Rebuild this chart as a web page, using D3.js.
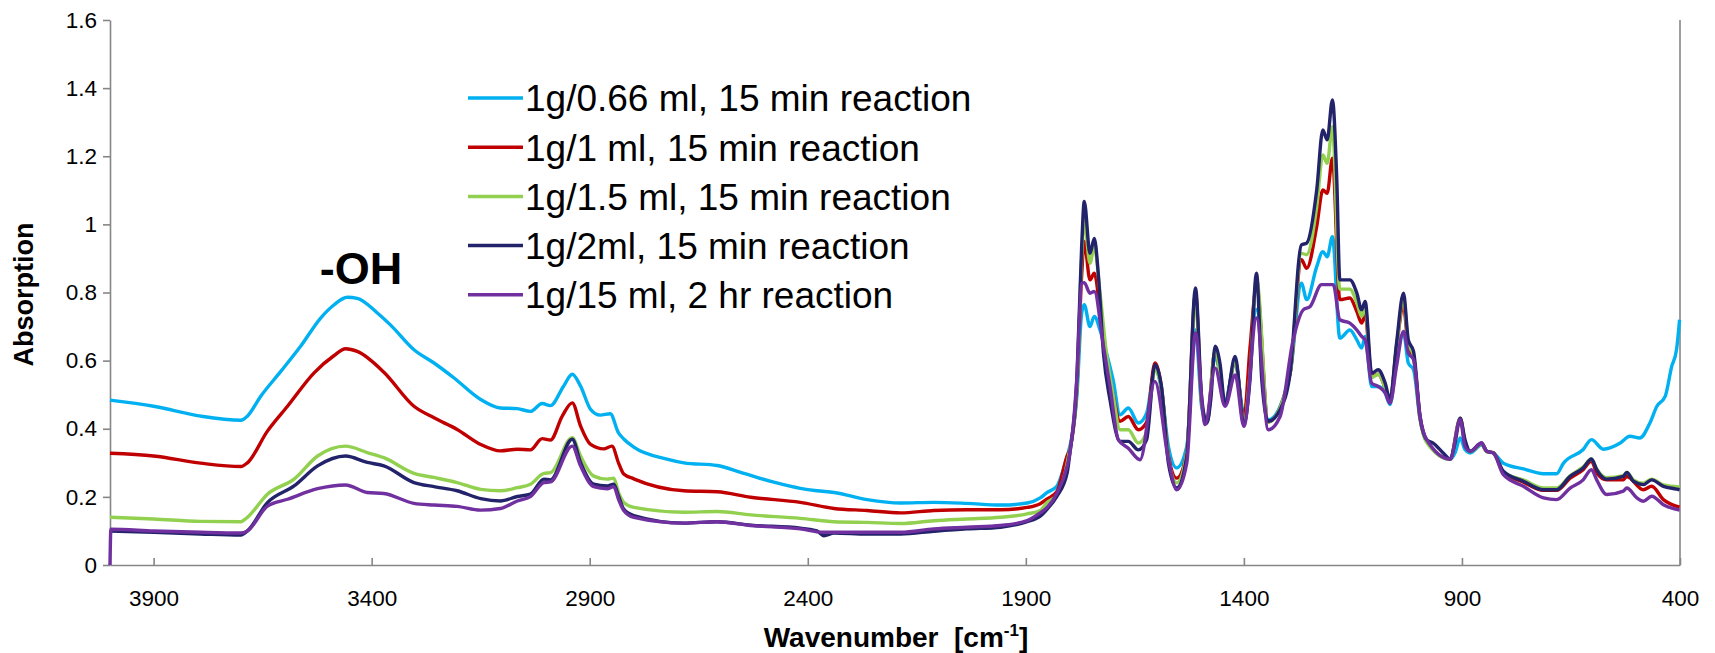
<!DOCTYPE html>
<html>
<head>
<meta charset="utf-8">
<script src="https://cdn.jsdelivr.net/npm/d3@7"></script>
<style>
  body { margin: 0; background: #fff; }
  text { font-family: Arial, "Liberation Sans", sans-serif; }
</style>
</head>
<body>
<div id="chart"></div>
<script>
// series names and colours, in legend order
var seriesNames = ["1g/0.66 ml, 15 min reaction", "1g/1 ml, 15 min reaction", "1g/1.5 ml, 15 min reaction", "1g/2ml, 15 min reaction", "1g/15 ml, 2 hr reaction"];
var seriesColors = ["#00b0f0", "#c00000", "#92d050", "#23236b", "#7030a0"];

var xTicks = [3900, 3400, 2900, 2400, 1900, 1400, 900, 400];
var yTicks = [0, 0.2, 0.4, 0.6, 0.8, 1, 1.2, 1.4, 1.6];

// [wavenumber, absorption]
var s066 = [[4000,0.484],[3900,0.466],[3792,0.437],[3700,0.425],[3685,0.437],[3654,0.496],[3608,0.569],[3563,0.642],[3517,0.725],[3486,0.764],[3456,0.786],[3433,0.783],[3387,0.740],[3357,0.705],[3303,0.632],[3257,0.593],[3211,0.549],[3150,0.486],[3105,0.461],[3066,0.459],[3036,0.451],[3009,0.474],[2990,0.468],[2960,0.525],[2940,0.560],[2921,0.525],[2898,0.457],[2876,0.440],[2853,0.444],[2834,0.388],[2822,0.370],[2799,0.346],[2723,0.311],[2684,0.300],[2608,0.292],[2554,0.272],[2478,0.243],[2417,0.225],[2379,0.218],[2340,0.213],[2264,0.192],[2187,0.182],[2111,0.184],[2035,0.181],[1958,0.176],[1897,0.182],[1867,0.197],[1851,0.213],[1829,0.231],[1805,0.321],[1799,0.348],[1783,0.495],[1772,0.739],[1766,0.764],[1753,0.700],[1743,0.730],[1730,0.690],[1715,0.622],[1700,0.544],[1684,0.441],[1665,0.461],[1642,0.417],[1623,0.446],[1604,0.573],[1589,0.514],[1573,0.348],[1554,0.285],[1531,0.348],[1511,0.690],[1497,0.466],[1485,0.417],[1466,0.612],[1443,0.485],[1420,0.593],[1400,0.446],[1371,0.750],[1344,0.426],[1294,0.563],[1268,0.827],[1256,0.779],[1233,0.876],[1219,0.920],[1209,0.905],[1197,0.964],[1180,0.666],[1157,0.690],[1141,0.661],[1130,0.637],[1122,0.671],[1107,0.524],[1092,0.524],[1076,0.505],[1065,0.471],[1050,0.603],[1034,0.681],[1023,0.593],[1011,0.573],[996,0.427],[981,0.363],[927,0.311],[916,0.329],[904,0.373],[893,0.339],[881,0.329],[855,0.353],[843,0.334],[828,0.329],[805,0.299],[759,0.282],[713,0.268],[683,0.268],[667,0.299],[622,0.339],[603,0.368],[576,0.340],[537,0.358],[515,0.378],[492,0.373],[469,0.417],[453,0.466],[434,0.495],[419,0.583],[408,0.632],[401,0.720]];

var s1 = [[4000,0.328],[3900,0.320],[3792,0.299],[3700,0.289],[3685,0.300],[3639,0.393],[3593,0.466],[3532,0.564],[3486,0.615],[3460,0.635],[3433,0.627],[3372,0.566],[3303,0.466],[3257,0.432],[3204,0.398],[3150,0.354],[3105,0.335],[3066,0.340],[3036,0.338],[3009,0.371],[2990,0.367],[2963,0.437],[2940,0.476],[2921,0.408],[2898,0.354],[2868,0.341],[2849,0.349],[2834,0.300],[2822,0.267],[2799,0.253],[2684,0.218],[2608,0.215],[2531,0.199],[2417,0.184],[2340,0.166],[2264,0.160],[2187,0.153],[2111,0.160],[2035,0.162],[1958,0.162],[1897,0.169],[1867,0.180],[1851,0.194],[1829,0.215],[1805,0.321],[1799,0.340],[1783,0.520],[1772,0.850],[1766,0.950],[1753,0.837],[1743,0.857],[1730,0.750],[1715,0.600],[1700,0.500],[1684,0.422],[1665,0.436],[1642,0.397],[1623,0.420],[1604,0.593],[1589,0.520],[1573,0.320],[1554,0.255],[1531,0.330],[1511,0.798],[1497,0.480],[1485,0.417],[1466,0.630],[1443,0.475],[1420,0.600],[1400,0.430],[1386,0.637],[1371,0.820],[1344,0.420],[1294,0.563],[1268,0.896],[1256,0.871],[1233,0.994],[1219,1.101],[1209,1.091],[1197,1.194],[1180,0.779],[1157,0.784],[1141,0.744],[1130,0.710],[1122,0.735],[1107,0.554],[1092,0.560],[1076,0.520],[1065,0.480],[1050,0.640],[1034,0.760],[1023,0.640],[1011,0.610],[996,0.430],[981,0.366],[927,0.311],[904,0.430],[893,0.360],[881,0.333],[855,0.356],[843,0.333],[828,0.330],[805,0.272],[759,0.243],[713,0.219],[683,0.219],[652,0.255],[622,0.280],[603,0.305],[591,0.270],[568,0.250],[530,0.250],[522,0.260],[484,0.221],[465,0.231],[438,0.192],[401,0.170]];

var s15 = [[4000,0.140],[3900,0.135],[3792,0.128],[3700,0.127],[3685,0.140],[3639,0.208],[3578,0.252],[3524,0.320],[3460,0.349],[3410,0.330],[3372,0.315],[3303,0.269],[3257,0.257],[3204,0.242],[3150,0.222],[3105,0.218],[3066,0.227],[3036,0.237],[3005,0.269],[2990,0.271],[2940,0.374],[2921,0.320],[2891,0.261],[2860,0.252],[2845,0.255],[2834,0.213],[2822,0.184],[2799,0.169],[2684,0.155],[2608,0.157],[2531,0.147],[2417,0.137],[2340,0.127],[2264,0.125],[2187,0.122],[2111,0.130],[2035,0.135],[1958,0.140],[1897,0.150],[1867,0.160],[1851,0.184],[1829,0.205],[1805,0.300],[1783,0.520],[1772,0.900],[1766,1.013],[1753,0.886],[1743,0.935],[1730,0.800],[1715,0.620],[1700,0.500],[1684,0.397],[1665,0.397],[1642,0.358],[1623,0.390],[1604,0.573],[1589,0.520],[1573,0.310],[1554,0.241],[1531,0.330],[1511,0.780],[1497,0.480],[1485,0.417],[1466,0.630],[1443,0.470],[1420,0.600],[1400,0.420],[1386,0.560],[1371,0.840],[1344,0.420],[1294,0.563],[1268,0.915],[1256,0.911],[1233,1.052],[1219,1.204],[1209,1.179],[1197,1.287],[1180,0.810],[1157,0.810],[1141,0.770],[1130,0.730],[1122,0.755],[1107,0.550],[1092,0.560],[1076,0.520],[1065,0.480],[1050,0.640],[1034,0.780],[1023,0.650],[1011,0.615],[996,0.430],[981,0.360],[927,0.310],[904,0.430],[893,0.360],[881,0.333],[855,0.356],[843,0.333],[828,0.330],[805,0.272],[759,0.250],[713,0.226],[683,0.226],[652,0.262],[622,0.288],[603,0.311],[591,0.282],[568,0.256],[530,0.262],[522,0.272],[507,0.250],[484,0.240],[465,0.252],[438,0.235],[401,0.229]];

var s2 = [[4000,0.100],[3900,0.096],[3792,0.091],[3700,0.088],[3685,0.100],[3639,0.183],[3578,0.232],[3524,0.291],[3460,0.320],[3410,0.301],[3372,0.291],[3303,0.242],[3257,0.230],[3204,0.218],[3150,0.195],[3105,0.188],[3066,0.201],[3036,0.208],[3005,0.252],[2990,0.250],[2940,0.369],[2921,0.301],[2891,0.237],[2860,0.232],[2845,0.237],[2834,0.203],[2822,0.164],[2799,0.145],[2684,0.123],[2608,0.127],[2531,0.117],[2417,0.108],[2379,0.100],[2363,0.086],[2340,0.094],[2264,0.091],[2187,0.091],[2111,0.099],[2035,0.106],[1958,0.111],[1897,0.127],[1867,0.143],[1851,0.164],[1829,0.201],[1805,0.272],[1799,0.329],[1783,0.544],[1772,0.935],[1766,1.067],[1753,0.915],[1743,0.959],[1734,0.857],[1722,0.622],[1707,0.485],[1684,0.363],[1665,0.363],[1642,0.338],[1623,0.368],[1604,0.588],[1589,0.524],[1573,0.299],[1554,0.226],[1531,0.319],[1511,0.813],[1497,0.495],[1485,0.417],[1476,0.485],[1466,0.642],[1455,0.593],[1443,0.470],[1420,0.612],[1400,0.412],[1386,0.544],[1371,0.857],[1359,0.544],[1344,0.422],[1317,0.456],[1294,0.563],[1268,0.940],[1256,0.945],[1233,1.101],[1219,1.277],[1209,1.248],[1197,1.365],[1187,1.131],[1180,0.837],[1157,0.837],[1141,0.798],[1130,0.749],[1122,0.774],[1107,0.563],[1092,0.573],[1076,0.534],[1065,0.485],[1050,0.651],[1034,0.798],[1023,0.661],[1011,0.627],[996,0.436],[981,0.368],[966,0.358],[943,0.329],[927,0.311],[916,0.358],[904,0.431],[893,0.368],[881,0.334],[855,0.358],[843,0.334],[828,0.329],[805,0.275],[759,0.246],[713,0.221],[683,0.221],[652,0.260],[622,0.285],[603,0.311],[591,0.280],[568,0.252],[530,0.260],[522,0.272],[507,0.246],[484,0.236],[465,0.250],[438,0.231],[408,0.223],[401,0.221]];

var s15h = [[4000,0],[3998,0.105],[3900,0.100],[3792,0.096],[3700,0.094],[3685,0.100],[3639,0.173],[3593,0.193],[3524,0.224],[3460,0.235],[3410,0.213],[3372,0.210],[3303,0.181],[3257,0.176],[3204,0.172],[3150,0.161],[3105,0.166],[3066,0.188],[3036,0.201],[3005,0.242],[2990,0.244],[2940,0.349],[2921,0.291],[2891,0.230],[2860,0.224],[2845,0.230],[2834,0.193],[2822,0.160],[2799,0.140],[2684,0.123],[2608,0.127],[2531,0.116],[2417,0.106],[2366,0.096],[2264,0.096],[2187,0.096],[2111,0.106],[2035,0.111],[1958,0.116],[1897,0.130],[1867,0.153],[1851,0.169],[1829,0.210],[1805,0.292],[1799,0.329],[1783,0.550],[1772,0.827],[1766,0.829],[1753,0.798],[1743,0.803],[1722,0.642],[1707,0.524],[1688,0.368],[1665,0.343],[1638,0.309],[1604,0.539],[1573,0.309],[1554,0.221],[1531,0.299],[1511,0.681],[1489,0.412],[1466,0.578],[1443,0.466],[1420,0.558],[1400,0.407],[1371,0.725],[1344,0.397],[1317,0.436],[1287,0.661],[1264,0.749],[1248,0.759],[1222,0.823],[1195,0.823],[1180,0.720],[1157,0.710],[1141,0.690],[1130,0.671],[1122,0.661],[1107,0.534],[1092,0.524],[1076,0.505],[1065,0.475],[1050,0.583],[1034,0.686],[1023,0.622],[1011,0.603],[996,0.436],[981,0.368],[927,0.311],[904,0.427],[893,0.348],[881,0.334],[855,0.358],[843,0.334],[828,0.329],[805,0.265],[759,0.231],[713,0.197],[683,0.192],[652,0.226],[622,0.250],[603,0.280],[591,0.250],[568,0.207],[530,0.217],[522,0.226],[499,0.197],[484,0.187],[465,0.202],[438,0.177],[401,0.161]];

function init() {
  var w = 1715;
  var h = 653;
  var m = { left: 110, right: 35, top: 20, bottom: 88 };
  var axisColor = "#868686";

  var svg = d3.select("#chart")
      .append("svg")
      .attr("width", w)
      .attr("height", h);

  var x = d3.scaleLinear().domain([4000, 400]).range([m.left, w - m.right]);
  var y = d3.scaleLinear().domain([0, 1.6]).range([h - m.bottom, m.top]);

  // y axis, ticks outward
  var yAxis = svg.append("g")
      .attr("transform", "translate(" + m.left + ",0)")
      .call(d3.axisLeft(y).tickValues(yTicks).tickFormat(d3.format("~g")).tickSizeInner(7).tickSizeOuter(0).tickPadding(6));

  // x axis, ticks pointing inward
  var xAxis = svg.append("g")
      .attr("transform", "translate(0," + (h - m.bottom) + ")")
      .call(d3.axisBottom(x).tickValues(xTicks).tickFormat(d3.format("d")).tickSizeInner(-7).tickSizeOuter(0).tickPadding(25));

  [yAxis, xAxis].forEach(function(g) {
    g.selectAll("path, line").attr("stroke", axisColor).attr("stroke-width", 1.6);
    g.selectAll("text").attr("fill", "#000").style("font-size", "22.5px").style("font-family", "Arial, 'Liberation Sans', sans-serif");
  });

  // right border line
  svg.append("line")
      .attr("x1", x(400)).attr("x2", x(400))
      .attr("y1", y(1.6)).attr("y2", y(0))
      .attr("stroke", axisColor)
      .attr("stroke-width", 1.6);

  var line = d3.line()
      .x(function(d) { return x(d[0]); })
      .y(function(d) { return y(d[1]); })
      .curve(d3.curveMonotoneX);

  var allSeries = [s066, s1, s15, s2, s15h];

  svg.selectAll("path.spectrum")
    .data(allSeries)
    .enter()
    .append("path")
    .attr("class", "spectrum")
    .attr("fill", "none")
    .attr("stroke", function(d, i) { return seriesColors[i]; })
    .attr("stroke-width", 3.4)
    .attr("stroke-linejoin", "round")
    .attr("d", line);

  // legend
  var legend = svg.append("g").attr("transform", "translate(468,98)");
  var rows = legend.selectAll("g")
    .data(seriesNames)
    .enter()
    .append("g")
    .attr("transform", function(d, i) { return "translate(0," + (i * 49.2) + ")"; });
  rows.append("line")
    .attr("x1", 0).attr("x2", 55)
    .attr("stroke", function(d, i) { return seriesColors[i]; })
    .attr("stroke-width", 3.5);
  rows.append("text")
    .attr("x", 57)
    .attr("dy", "0.36em")
    .style("font-size", "37px")
    .text(function(d) { return d; });

  // -OH annotation
  svg.append("text")
    .attr("x", 361)
    .attr("y", 284)
    .attr("text-anchor", "middle")
    .style("font-size", "45px")
    .style("font-weight", "bold")
    .text("-OH");

  // axis titles
  svg.append("text")
    .attr("transform", "translate(33," + ((m.top + h - m.bottom) / 2 + 2) + ") rotate(-90)")
    .attr("text-anchor", "middle")
    .style("font-size", "27px")
    .style("font-weight", "bold")
    .text("Absorption");

  var xt = svg.append("text")
    .attr("x", 896)
    .attr("y", 647)
    .attr("text-anchor", "middle")
    .style("font-size", "28px")
    .style("font-weight", "bold")
    .style("white-space", "pre");
  xt.append("tspan").text("Wavenumber  [cm");
  xt.append("tspan").attr("dy", -11).style("font-size", "17px").text("-1");
  xt.append("tspan").attr("dy", 11).text("]");
}

window.onload = init;
</script>
</body>
</html>
